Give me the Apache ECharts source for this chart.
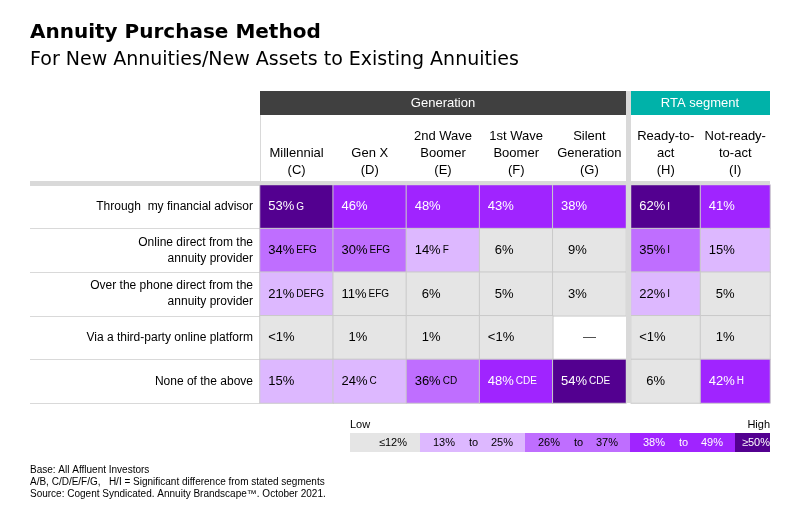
<!DOCTYPE html>
<html>
<head>
<meta charset="utf-8">
<script src="https://cdn.jsdelivr.net/npm/echarts@6/dist/echarts.min.js"></script>
<style>
  html, body { margin: 0; padding: 0; background: #fff; }
  #chart { width: 808px; height: 524px; }
</style>
</head>
<body>
<div id="chart"></div>
<script>
// categories
var rows = [
    'Through  my financial advisor',
    'Online direct from the\nannuity provider',
    'Over the phone direct from the\nannuity provider',
    'Via a third-party online platform',
    'None of the above'
];
var genCols = ['Millennial\n(C)', 'Gen X\n(D)', '2nd Wave\nBoomer\n(E)', '1st Wave\nBoomer\n(F)', 'Silent\nGeneration\n(G)'];
var rtaCols = ['Ready-to-\nact\n(H)', 'Not-ready-\nto-act\n(I)'];

// values in %, one array per row; 0.5 = "<1%", null = no data
var genValues = [
    [53, 46, 48, 43, 38],
    [34, 30, 14, 6, 9],
    [21, 11, 6, 5, 3],
    [0.5, 1, 1, 0.5, null],
    [15, 24, 36, 48, 54]
];
var rtaValues = [
    [62, 41],
    [35, 15],
    [22, 5],
    [0.5, 1],
    [6, 42]
];

// significance letters
var genSig = [
    ['G', '', '', '', ''],
    ['EFG', 'EFG', 'F', '', ''],
    ['DEFG', 'EFG', '', '', ''],
    ['', '', '', '', ''],
    ['', 'C', 'CD', 'CDE', 'CDE']
];
var rtaSig = [
    ['I', ''],
    ['I', ''],
    ['I', ''],
    ['', ''],
    ['', 'H']
];

// colour key
var binLabels = [['\u226412%'], ['13%', 'to', '25%'], ['26%', 'to', '37%'], ['38%', 'to', '49%'], ['\u226550%']];
var binColors = ['#e5e5e5', '#ddb8ff', '#bf6eff', '#a024ff', '#530090'];

var footnotes = [
    'Base: All Affluent Investors',
    'A/B, C/D/E/F/G,   H/I = Significant difference from stated segments',
    'Source: Cogent Syndicated. Annuity Brandscape\u2122. October 2021.'
];

function binIndex(v) {
    if (v >= 50) return 4;
    if (v >= 38) return 3;
    if (v >= 26) return 2;
    if (v >= 13) return 1;
    return 0;
}

function cellData(values, sig) {
    var out = [];
    values.forEach(function (row, r) {
        row.forEach(function (v, c) {
            if (v === null) return;
            var b = binIndex(v);
            out.push({
                value: [c, r, v],
                sig: sig[r][c],
                itemStyle: { color: binColors[b] },
                label: { color: b >= 3 ? '#fff' : '#000' }
            });
        });
    });
    return out;
}

function emptyCells(values) {
    var out = [];
    values.forEach(function (row, r) {
        row.forEach(function (v, c) {
            if (v === null) out.push([c, r]);
        });
    });
    return out;
}

function cellLabel(p) {
    var v = p.value[2];
    var txt;
    if (v < 1) txt = '{v|<1%}';
    else if (v < 10) txt = '{vp|' + v + '%}';
    else txt = '{v|' + v + '%}';
    if (p.data.sig) txt += '{s|' + p.data.sig + '}';
    return txt;
}

var FONT = 'Liberation Sans, Arial, sans-serif';

var cellLabelOpt = {
    show: true,
    position: 'insideLeft',
    distance: 9,
    fontFamily: FONT,
    formatter: cellLabel,
    rich: {
        v: { fontSize: 13, fontFamily: FONT },
        vp: { fontSize: 13, fontFamily: FONT, padding: [0, 0, 0, 7] },
        s: { fontSize: 10, fontFamily: FONT, padding: [0, 0, 0, 2] }
    }
};

var headLabel = {
    fontFamily: FONT,
    fontSize: 13,
    lineHeight: 17,
    color: '#000',
    margin: 6,
    interval: 0
};

var graphics = [
    { type: 'text', style: { x: 30, y: 33, text: 'Annuity Purchase Method', font: 'bold 20px "DejaVu Sans"', fill: '#000', verticalAlign: 'middle', textVerticalAlign: 'middle' } },
    { type: 'text', style: { x: 30, y: 60, text: 'For New Annuities/New Assets to Existing Annuities', font: '19px "DejaVu Sans"', fill: '#000', verticalAlign: 'middle', textVerticalAlign: 'middle' } },
    { type: 'rect', shape: { x: 260, y: 91, width: 366, height: 24 }, style: { fill: '#404040' } },
    { type: 'text', style: { x: 443, y: 103, text: 'Generation', font: '13px ' + FONT, fill: '#fff', align: 'center', textAlign: 'center', verticalAlign: 'middle', textVerticalAlign: 'middle' } },
    { type: 'rect', shape: { x: 631, y: 91, width: 139, height: 24 }, style: { fill: '#00b2a9' } },
    { type: 'text', style: { x: 700, y: 103, text: 'RTA segment', font: '13px ' + FONT, fill: '#fff', align: 'center', textAlign: 'center', verticalAlign: 'middle', textVerticalAlign: 'middle' } },
    { type: 'line', shape: { x1: 260.5, y1: 115, x2: 260.5, y2: 185 }, style: { stroke: '#d9d9d9', lineWidth: 1 } },
    { type: 'rect', shape: { x: 626, y: 91, width: 5, height: 312 }, style: { fill: '#d9d9d9' }, z: 10 },
    { type: 'rect', shape: { x: 30, y: 181, width: 740, height: 4 }, style: { fill: '#d9d9d9' }, z: 10 },
    { type: 'text', style: { x: 350, y: 425, text: 'Low', font: '11px ' + FONT, fill: '#000', verticalAlign: 'middle', textVerticalAlign: 'middle' } },
    { type: 'text', style: { x: 770, y: 425, text: 'High', font: '11px ' + FONT, fill: '#000', align: 'right', textAlign: 'right', verticalAlign: 'middle', textVerticalAlign: 'middle' } }
];

// colour key boxes
var keyX = [350, 420, 525, 630, 735, 770];
binLabels.forEach(function (parts, i) {
    var x0 = keyX[i], x1 = keyX[i + 1];
    var col = i >= 3 ? '#fff' : '#000';
    graphics.push({ type: 'rect', shape: { x: x0, y: 433, width: x1 - x0, height: 19 }, style: { fill: binColors[i] } });
    var xs, aligns;
    if (parts.length === 1) {
        xs = [i === 0 ? x1 - 13 : x1];
        aligns = ['right'];
    } else {
        xs = [x0 + 13, (x0 + x1) / 2 + 1, x1 - 12];
        aligns = ['left', 'center', 'right'];
    }
    parts.forEach(function (t, k) {
        graphics.push({ type: 'text', style: { x: xs[k], y: 443, text: t, font: '11px ' + FONT, fill: col, align: aligns[k], textAlign: aligns[k], verticalAlign: 'middle', textVerticalAlign: 'middle' } });
    });
});

footnotes.forEach(function (t, i) {
    graphics.push({ type: 'text', style: { x: 30, y: 470 + i * 12, text: t, font: '10px ' + FONT, fill: '#000', verticalAlign: 'middle', textVerticalAlign: 'middle' } });
});

var myChart = echarts.init(document.getElementById('chart'));
var option = {
    animation: false,
    backgroundColor: '#fff',
    grid: [
        { left: 260, top: 185, width: 366, height: 218 },
        { left: 631, top: 185, width: 139, height: 218 }
    ],
    xAxis: [
        {
            type: 'category', gridIndex: 0, position: 'top', data: genCols,
            axisLine: { show: false }, axisTick: { show: false }, axisLabel: headLabel
        },
        {
            type: 'category', gridIndex: 1, position: 'top', data: rtaCols,
            axisLine: { show: false }, axisTick: { show: false }, axisLabel: headLabel
        }
    ],
    yAxis: [
        {
            type: 'category', gridIndex: 0, inverse: true, data: rows,
            axisLine: { show: false },
            axisTick: { show: true, length: 230, lineStyle: { color: '#d9d9d9' } },
            axisLabel: { fontFamily: FONT, fontSize: 12, lineHeight: 16, color: '#000', margin: 7, align: 'right', interval: 0 }
        },
        {
            type: 'category', gridIndex: 1, inverse: true, data: rows,
            axisLine: { show: false }, axisTick: { show: false }, axisLabel: { show: false }
        }
    ],
    series: [
        {
            type: 'heatmap', xAxisIndex: 0, yAxisIndex: 0,
            data: cellData(genValues, genSig),
            itemStyle: { borderColor: '#c9c9c9', borderWidth: 1 },
            label: cellLabelOpt,
            emphasis: { disabled: true }
        },
        {
            type: 'heatmap', xAxisIndex: 1, yAxisIndex: 1,
            data: cellData(rtaValues, rtaSig),
            itemStyle: { borderColor: '#c9c9c9', borderWidth: 1 },
            label: cellLabelOpt,
            emphasis: { disabled: true }
        },
        {
            type: 'scatter', xAxisIndex: 0, yAxisIndex: 0,
            data: emptyCells(genValues),
            symbolSize: 0,
            label: { show: true, position: 'inside', formatter: '\u2014', fontFamily: FONT, fontSize: 13, color: '#000' },
            silent: true
        }
    ],
    graphic: graphics
};
myChart.setOption(option);
</script>
</body>
</html>
